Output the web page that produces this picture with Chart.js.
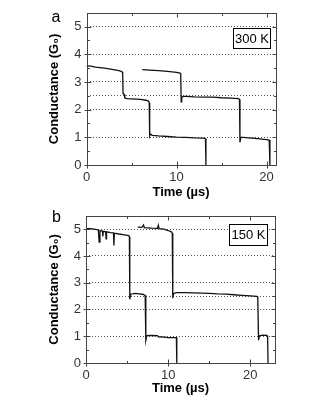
<!DOCTYPE html>
<html>
<head>
<meta charset="utf-8">
<script src="https://cdn.jsdelivr.net/npm/chart.js@4"></script>
<style>
  html, body { margin:0; padding:0; background:#fff; }
  #wrap { position:relative; width:323px; height:418px; overflow:hidden; }
  canvas { position:absolute; left:0; }
</style>
</head>
<body>
<div id="wrap">
  <canvas id="ca" width="323" height="203" style="top:0;width:323px;height:203px"></canvas>
  <canvas id="cb" width="323" height="215" style="top:203px;width:323px;height:215px"></canvas>
</div>
<script>
// ---------- DATA ----------
const yTickLabels = ["0", "1", "2", "3", "4", "5"];
const xTickLabels = ["0", "10", "20"];
const yGridValues = [1, 2, 2.5, 3, 4, 5];

// Panel a (300 K), trace 1
const a1Time = [0, 0.5, 1, 2, 3, 3.6, 3.95, 4.02, 4.06, 4.2, 4.26, 4.5, 5, 6, 6.6, 6.9, 6.97, 7.02, 7.1, 7.3, 8, 9, 10, 11, 12, 13.0, 13.22, 13.27];
const a1G    = [3.58, 3.57, 3.54, 3.50, 3.45, 3.41, 3.37, 3.30, 2.58, 2.55, 2.42, 2.40, 2.39, 2.37, 2.34, 2.31, 2.25, 1.05, 1.12, 1.07, 1.05, 1.03, 1.01, 1.0, 0.98, 0.97, 0.95, 0];
// Panel a (300 K), trace 2
const a2Time = [6.2, 7, 8, 9, 10, 10.4, 10.47, 10.52, 10.58, 10.75, 11, 12, 13, 14, 15, 16, 16.9, 17.0, 17.05, 17.15, 17.4, 18, 19, 20, 20.3, 20.38];
const a2G    = [3.45, 3.43, 3.41, 3.38, 3.35, 3.32, 3.28, 2.28, 2.45, 2.48, 2.48, 2.46, 2.45, 2.45, 2.43, 2.42, 2.40, 2.37, 0.82, 1.0, 1.0, 0.98, 0.95, 0.92, 0.9, 0];

// Panel b (150 K), trace 1
const b1Time = [0, 0.5, 1, 1.5, 1.6, 1.7, 2.0, 2.05, 2.1, 2.4, 2.45, 2.5, 3, 3.35, 3.4, 3.45, 4, 4.5, 5.2, 5.28, 5.33, 5.45, 6, 6.5, 7.0, 7.2, 7.28, 7.4, 8, 8.7, 8.8, 9.5, 10, 11.0, 11.05];
const b1G    = [5.02, 5.02, 5.0, 4.97, 4.52, 4.95, 4.93, 4.73, 4.92, 4.9, 4.64, 4.9, 4.87, 4.86, 4.39, 4.85, 4.82, 4.8, 4.76, 4.72, 2.38, 2.57, 2.6, 2.58, 2.56, 2.52, 0.84, 1.02, 1.03, 1.02, 0.98, 0.97, 0.95, 0.95, 0];
// Panel b (150 K), trace 2
const b2Time = [6.3, 6.8, 7.0, 7.1, 8, 8.7, 8.8, 8.9, 9.5, 10, 10.4, 10.5, 10.56, 10.66, 11, 12, 13, 14, 15, 16, 17, 18, 19, 20, 20.8, 20.9, 21.0, 21.1, 21.5, 22.0, 22.1, 22.15];
const b2G    = [5.08, 5.07, 5.16, 5.06, 5.04, 5.03, 5.15, 5.02, 5.0, 4.95, 4.9, 4.85, 2.42, 2.6, 2.63, 2.63, 2.62, 2.61, 2.6, 2.58, 2.57, 2.55, 2.53, 2.51, 2.49, 2.47, 0.85, 1.02, 1.04, 1.03, 1.0, 0];

// ---------- HELPERS ----------
function pts(t, g) { return t.map((v, i) => ({ x: v, y: g[i] })); }

const FONT = "'Liberation Sans', Arial, sans-serif";
const TICKCOL = '#333';
const FRAMECOL = '#444';

const framePlugin = {
  id: 'frame',
  afterDraw(chart, args, opts) {
    const { ctx, chartArea: ca, scales } = chart;
    const xs = scales.x, ys = scales.y;
    ctx.save();
    ctx.strokeStyle = FRAMECOL;
    ctx.lineWidth = 1;
    ctx.setLineDash([]);
    ctx.strokeRect(Math.round(ca.left) + 0.5, Math.round(ca.top) + 0.5,
                   Math.round(ca.right - ca.left), Math.round(ca.bottom - ca.top));
    const L = Math.round(ca.left) + 0.5, R = Math.round(ca.right) + 0.5;
    const T = Math.round(ca.top) + 0.5, B = Math.round(ca.bottom) + 0.5;
    ctx.beginPath();
    ys.ticks.forEach(tk => {
      const v = tk.value;
      const y = Math.round(ys.getPixelForValue(v)) + 0.5;
      const major = Math.abs(v - Math.round(v)) < 1e-9;
      const inL = major ? 4 : 2.5;
      ctx.moveTo(L - (major ? 3 : 0), y); ctx.lineTo(L + inL, y);
      ctx.moveTo(R, y); ctx.lineTo(R - inL, y);
    });
    xs.ticks.forEach(tk => {
      const v = tk.value;
      const x = Math.round(xs.getPixelForValue(v)) + 0.5;
      const major = v % 10 === 0;
      const inL = major ? 4 : 2.5;
      ctx.moveTo(x, B + (major ? 3 : 0)); ctx.lineTo(x, B - inL);
      ctx.moveTo(x, T); ctx.lineTo(x, T + inL);
    });
    ctx.stroke();
    // panel letter
    ctx.fillStyle = '#000';
    ctx.font = '16px ' + FONT;
    ctx.textAlign = 'center';
    ctx.textBaseline = 'alphabetic';
    ctx.fillText(opts.letter, opts.lx, opts.ly);
    // temperature box
    const b = opts.box;
    ctx.fillStyle = '#fff';
    ctx.fillRect(b.x, b.y, b.w, b.h);
    ctx.strokeStyle = '#000';
    ctx.strokeRect(b.x + 0.5, b.y + 0.5, b.w, b.h);
    ctx.fillStyle = '#000';
    ctx.font = '13px ' + FONT;
    ctx.textBaseline = 'middle';
    ctx.fillText(opts.label, b.x + b.w / 2 + 0.5, b.y + b.h / 2 + 1);
    ctx.restore();
  }
};

function makeChart(id, traces, cfg) {
  return new Chart(document.getElementById(id), {
    type: 'line',
    data: {
      datasets: traces.map(tr => ({
        data: pts(tr[0], tr[1]),
        borderColor: '#111',
        borderWidth: 1.3,
        pointRadius: 0,
        tension: 0,
        fill: false
      }))
    },
    options: {
      responsive: false,
      animation: false,
      devicePixelRatio: 1,
      layout: { padding: { top: cfg.padTop, right: cfg.padRight, left: 0, bottom: 0 } },
      plugins: {
        legend: { display: false },
        tooltip: { enabled: false },
        frame: cfg.frame
      },
      scales: {
        x: {
          type: 'linear',
          min: 0, max: cfg.xMax,
          afterBuildTicks(s) {
            const t = [];
            for (let v = 0; v <= cfg.xMax; v += 5) t.push({ value: v });
            s.ticks = t;
          },
          afterFit(s) { s.height = cfg.xAxisH; },
          grid: { display: false, drawTicks: false },
          border: { display: false },
          ticks: {
            padding: 5, color: TICKCOL, maxRotation: 0, autoSkip: false,
            font: { family: FONT, size: 13 },
            callback(v) { const s = String(v); return xTickLabels.includes(s) ? s : ''; }
          },
          title: {
            display: true, text: 'Time (µs)', color: '#000',
            font: { family: FONT, size: 13, weight: 'bold' },
            padding: { top: 0, bottom: cfg.xTitlePad }
          }
        },
        y: {
          min: 0, max: 5.5,
          afterBuildTicks(s) {
            const t = [];
            for (let i = 0; i <= 11; i++) t.push({ value: i * 0.5 });
            s.ticks = t;
          },
          afterFit(s) { s.width = cfg.yAxisW; },
          grid: {
            drawTicks: false,
            color(c) {
              const v = c.tick ? c.tick.value : null;
              return (v !== null && yGridValues.some(g => Math.abs(g - v) < 1e-9)) ? '#555' : 'rgba(0,0,0,0)';
            },
            lineWidth: 1
          },
          border: { display: false, dash: [1, 2] },
          ticks: {
            padding: 5, color: TICKCOL, autoSkip: false,
            font: { family: FONT, size: 13 },
            callback(v) { const s = String(v); return yTickLabels.includes(s) ? s : ''; }
          },
          title: {
            display: true, text: 'Conductance (G₀)', color: '#000',
            font: { family: FONT, size: 13, weight: 'bold' },
            padding: { top: cfg.yTitlePad, bottom: 0 }
          }
        }
      }
    },
    plugins: [framePlugin]
  });
}

makeChart('ca', [[a1Time, a1G], [a2Time, a2G]], {
  padTop: 12, padRight: 47.5, xMax: 21, xAxisH: 38, yAxisW: 86.5,
  xTitlePad: 3, yTitlePad: 47,
  frame: { letter: 'a', lx: 56, ly: 22, label: '300 K', box: { x: 233, y: 28, w: 37, h: 20 } }
});

makeChart('cb', [[b1Time, b1G], [b2Time, b2G]], {
  padTop: 8, padRight: 48, xMax: 23, xAxisH: 55, yAxisW: 86,
  xTitlePad: 22, yTitlePad: 47,
  frame: { letter: 'b', lx: 56.5, ly: 19, label: '150 K', box: { x: 229, y: 21, w: 38, h: 21 } }
});
</script>
</body>
</html>
